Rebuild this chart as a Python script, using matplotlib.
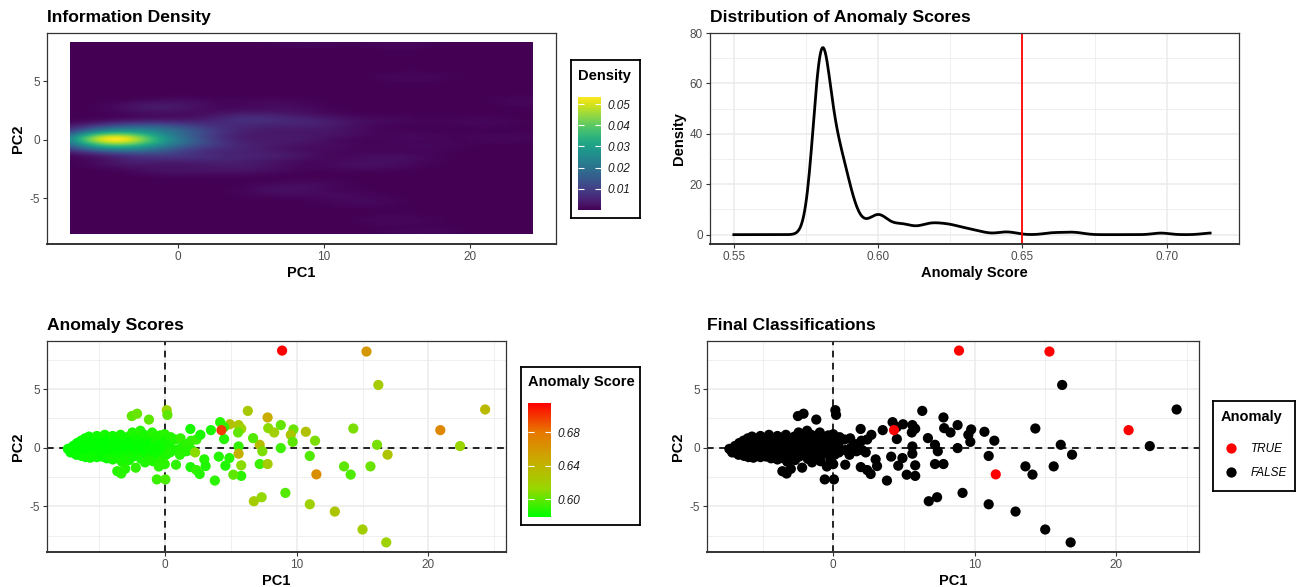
import numpy as np
import matplotlib
matplotlib.use("Agg")
import matplotlib.pyplot as plt
from matplotlib.colors import LinearSegmentedColormap, Normalize
from matplotlib.lines import Line2D

W, H = 1306, 587

# dense group of points left of the origin (PC1, PC2, anomaly score)
cluster_pc1 = [
  -7.35, -7.15, -6.95, -6.85, -6.65, -6.55, -6.70, -6.60,
  -6.35, -6.25, -6.40, -6.30, -6.20, -6.05, -5.95, -6.10, -5.90, -6.00, -6.00,
  -5.75, -5.65, -5.80, -5.60, -5.70, -5.65, -5.75, -5.45, -5.35, -5.50, -5.30, -5.40, -5.45,
  -5.15, -5.05, -5.20, -5.00, -5.10, -5.05, -5.15, -5.10, -4.85, -4.75, -4.90, -4.70, -4.80, -4.75, -4.85,
  -4.55, -4.45, -4.60, -4.40, -4.50, -4.45, -4.55, -4.40, -4.50,
  -4.25, -4.15, -4.30, -4.10, -4.20, -4.15, -4.25, -4.20,
  -3.95, -3.85, -4.00, -3.80, -3.90, -3.85, -3.95, -3.90,
  -3.65, -3.55, -3.70, -3.50, -3.60, -3.55, -3.60, -3.65,
  -3.35, -3.25, -3.40, -3.20, -3.30, -3.25, -3.30, -3.35,
  -4.65, -4.35, -4.95, -4.05,
  -3.05, -2.95, -3.10, -2.90, -3.00, -3.00, -2.75, -2.65, -2.80, -2.60, -2.70,
  -2.45, -2.35, -2.50, -2.30, -2.40, -2.50, -2.15, -2.05, -2.20, -2.00, -2.20, -2.10,
  -1.85, -1.75, -1.90, -1.70, -1.80, -1.55, -1.45, -1.60, -1.40, -1.50,
  -1.25, -1.15, -1.30, -1.10, -1.20, -0.95, -0.85, -1.00, -0.90,
  -0.65, -0.55, -0.60, -0.45, -0.60, -0.35, -0.25, -0.30, -0.20,
  0.00, 0.05, -0.05, 0.10, 0.00, 0.05, 0.15, 0.20, 0.45, 0.35, 0.40, 0.80, 0.85, 0.85,
  1.20, 1.25, 1.15, 1.60, 1.65, 1.94, 2.00, 2.05, 1.95, 2.40, 2.30, 2.40,
]
cluster_pc2 = [
  -0.10, -0.40, 0.15, -0.45, 0.40, -0.10, -0.60, 0.10,
  0.60, 0.05, -0.30, -0.70, 0.30, 0.80, 0.25, -0.10, -0.40, -0.80, 0.05,
  0.95, 0.45, 0.10, -0.20, -0.55, -0.85, 0.25, 0.70, 0.15, -0.05, -0.35, -0.65, 0.40,
  1.00, 0.50, 0.20, 0.00, -0.25, -0.50, -0.80, 0.10, 0.80, 0.35, 0.05, -0.15, -0.40, -0.75, 0.15,
  1.10, 0.55, 0.25, 0.00, -0.15, -0.35, -0.60, -0.90, 0.10,
  0.75, 0.40, 0.10, -0.05, -0.25, -0.50, -0.85, 0.20,
  1.00, 0.50, 0.15, -0.05, -0.40, -0.65, -1.00, 0.05,
  0.85, 0.35, 0.00, -0.25, -0.55, -0.90, -2.00, 0.15,
  1.10, 0.60, 0.15, -0.15, -0.50, -1.20, -2.20, 0.00,
  0.00, 0.05, -0.05, 0.05,
  0.80, 0.25, -0.10, -0.45, -0.80, -1.80, 0.95, 0.45, 0.00, -0.35, -1.05,
  1.30, 0.70, 0.20, -0.30, -0.75, 2.70, 0.90, 0.35, -0.10, -0.55, -1.70, 2.90,
  1.45, 0.80, 0.20, -0.35, -0.95, 1.10, 0.55, -0.10, -0.65, -1.25,
  0.85, 0.30, -0.30, -0.85, 2.40, 1.30, 0.50, -0.20, -1.15,
  0.75, 0.10, -0.50, -1.60, -2.70, 1.05, 0.30, -0.20, -1.05,
  1.15, 0.60, 0.00, -0.60, -1.40, -2.70, 3.20, 2.80, 0.90, 0.20, -0.40, 0.70, -0.20, -1.45,
  0.80, 0.00, -0.60, 0.30, -0.30, 1.60, 0.60, -0.20, -1.65, 0.70, -0.40, -1.90,
]
cluster_score = [
  0.580, 0.580, 0.579, 0.580, 0.580, 0.579, 0.581, 0.580,
  0.580, 0.579, 0.580, 0.581, 0.580, 0.581, 0.580, 0.579, 0.580, 0.582, 0.579,
  0.582, 0.580, 0.579, 0.580, 0.580, 0.583, 0.580, 0.580, 0.579, 0.580, 0.580, 0.581, 0.580,
  0.583, 0.580, 0.579, 0.579, 0.580, 0.580, 0.582, 0.580, 0.581, 0.580, 0.579, 0.580, 0.580, 0.581, 0.579,
  0.584, 0.580, 0.579, 0.580, 0.579, 0.580, 0.580, 0.582, 0.580,
  0.580, 0.580, 0.579, 0.580, 0.580, 0.581, 0.582, 0.580,
  0.583, 0.580, 0.580, 0.580, 0.580, 0.581, 0.584, 0.580,
  0.581, 0.580, 0.580, 0.580, 0.581, 0.583, 0.588, 0.580,
  0.584, 0.581, 0.580, 0.580, 0.581, 0.585, 0.589, 0.580,
  0.580, 0.579, 0.580, 0.580,
  0.582, 0.580, 0.580, 0.581, 0.583, 0.587, 0.583, 0.580, 0.580, 0.581, 0.585,
  0.586, 0.581, 0.580, 0.581, 0.584, 0.600, 0.584, 0.581, 0.580, 0.582, 0.590, 0.602,
  0.587, 0.582, 0.580, 0.581, 0.585, 0.585, 0.581, 0.580, 0.582, 0.586,
  0.584, 0.580, 0.581, 0.585, 0.600, 0.587, 0.581, 0.581, 0.586,
  0.585, 0.581, 0.582, 0.589, 0.592, 0.586, 0.581, 0.581, 0.588,
  0.588, 0.584, 0.582, 0.585, 0.589, 0.595, 0.615, 0.600, 0.587, 0.584, 0.586, 0.586, 0.585, 0.590,
  0.591, 0.586, 0.588, 0.589, 0.587, 0.585, 0.590, 0.588, 0.586, 0.592, 0.610, 0.591,
]

# points spread to the right; the last five are the flagged ones
spread_pc1 = [
  16.2, 24.3, 14.3, 16.1, 16.9, 22.4, 13.6, 14.1, 15.6, 12.9, 11.0, 15.0, 16.8, 9.15,
  6.76, 7.35, 6.3, 7.8, 7.85, 8.3, 8.8, 9.76, 9.56, 9.7, 10.7, 11.4, 11.0, 8.8,
  7.2, 7.4, 6.7, 7.2, 7.8, 5.6, 5.6, 5.8, 5.8, 5.2, 5.6, 5.8, 5.56, 4.94,
  4.2, 3.5, 4.5, 4.5, 4.1, 4.6, 4.9, 3.8, 2.65, 3.0, 3.1, 2.7,
  8.9, 15.3, 11.5, 20.9, 4.3,
]
spread_pc2 = [
  5.35, 3.26, 1.64, 0.25, -0.59, 0.14, -1.59, -2.29, -1.59, -5.44, -4.82, -6.97, -8.07, -3.85,
  -4.56, -4.22, 3.14, 2.58, 1.67, 1.30, 1.93, 1.56, 1.10, 0.50, 1.36, 0.60, -0.70, -0.03,
  0.25, -0.30, 0.82, -1.39, -1.39, 0.11, -0.51, -1.50, -2.40, -2.30, 1.93, 1.62, 1.30, 2.00,
  2.18, 1.50, 0.74, 1.76, -0.76, -1.53, -0.88, -2.80, -2.24, -0.99, -1.56, 1.10,
  8.28, 8.20, -2.27, 1.50, 1.50,
]
spread_score = [
  0.622, 0.636, 0.607, 0.606, 0.628, 0.615, 0.600, 0.596, 0.603, 0.626, 0.618, 0.620, 0.617, 0.598,
  0.621, 0.612, 0.624, 0.646, 0.610, 0.619, 0.601, 0.603, 0.626, 0.600, 0.630, 0.607, 0.597, 0.593,
  0.633, 0.607, 0.598, 0.592, 0.622, 0.590, 0.643, 0.610, 0.589, 0.600, 0.625, 0.617, 0.601, 0.631,
  0.588, 0.585, 0.588, 0.590, 0.587, 0.586, 0.588, 0.589, 0.588, 0.587, 0.586, 0.585,
  0.715, 0.660, 0.665, 0.669, 0.698,
]

threshold = 0.65
density_from = 0.55
score_bw = 0.0028

pc1 = np.array(cluster_pc1 + spread_pc1)
pc2 = np.array(cluster_pc2 + spread_pc2)
score = np.array(cluster_score + spread_score)
anomaly = score > threshold
n = len(score)

plt.rcParams['font.family'] = ['Liberation Sans', 'DejaVu Sans']
plt.rcParams['axes.unicode_minus'] = False

def box(x0, y0, x1, y1):
  return [x0 / W, 1 - y1 / H, (x1 - x0) / W, (y1 - y0) / H]

def gauss(u):
  return np.exp(-0.5 * u ** 2) / np.sqrt(2 * np.pi)

def bw_nrd(v):
  q75, q25 = np.percentile(v, [75, 25])
  return 4 * 1.06 * min(np.std(v, ddof=1), (q75 - q25) / 1.34) * len(v) ** -0.2

def expand(v, frac=0.05):
  lo, hi = np.min(v), np.max(v)
  pad = (hi - lo) * frac
  return lo - pad, hi + pad

def style(ax, grid=True):
  for sp in ax.spines.values():
    sp.set_color('#333333')
    sp.set_linewidth(0.9)
  ax.spines['bottom'].set_linewidth(1.4)
  ax.tick_params(which='major', length=3, width=0.8, color='#333333',
                 labelcolor='#4D4D4D', labelsize=8.5, pad=2)
  ax.tick_params(which='minor', length=0)
  if grid:
    ax.grid(which='major', color='#EBEBEB', lw=1.1)
    ax.grid(which='minor', color='#EBEBEB', lw=0.55)
    ax.set_axisbelow(True)

def titles(ax, title, xlabel, ylabel):
  ax.set_title(title, loc='left', fontsize=12.6, fontweight='bold', pad=8)
  ax.set_xlabel(xlabel, fontsize=10.5, fontweight='bold', labelpad=2)
  ax.set_ylabel(ylabel, fontsize=10.5, fontweight='bold', labelpad=3)

def legend_box(x0, y0, x1, y1):
  lg = fig.add_axes(box(x0, y0, x1, y1))
  lg.set_xticks([])
  lg.set_yticks([])
  for sp in lg.spines.values():
    sp.set_color('black')
    sp.set_linewidth(1.3)
  return lg

def style_cbar(cb, ticks):
  lo, hi = cb.mappable.get_clim()
  ticks = [t for t in ticks if lo <= t <= hi]
  cb.outline.set_visible(False)
  cb.set_ticks(ticks)
  cb.set_ticklabels([f'{t:.2f}' for t in ticks])
  cb.ax.tick_params(direction='in', length=4, width=0.8, color='white',
                    left=True, right=True, labelleft=False, labelright=True,
                    labelsize=8.5, labelcolor='#1A1A1A', pad=5)
  for t in cb.ax.get_yticklabels():
    t.set_style('italic')

fig = plt.figure(figsize=(W / 100, H / 100), dpi=100)

# ---- Information Density (2d kernel density of PC1/PC2)
gx = np.linspace(pc1.min(), pc1.max(), 100)
gy = np.linspace(pc2.min(), pc2.max(), 100)
hx = bw_nrd(pc1) / 4
hy = bw_nrd(pc2) / 4
kx = gauss((gx[:, None] - pc1[None, :]) / hx)
ky = gauss((gy[:, None] - pc2[None, :]) / hy)
dens2d = (ky @ kx.T) / (n * hx * hy)

ax1 = fig.add_axes(box(47, 33, 556, 244))
im = ax1.imshow(dens2d, origin='lower', aspect='auto', cmap='viridis',
                interpolation='bilinear', extent=[gx[0], gx[-1], gy[0], gy[-1]])
ax1.set_xlim(expand(pc1))
ax1.set_ylim(expand(pc2))
ax1.set_xticks([0, 10, 20])
ax1.set_yticks([-5, 0, 5])
style(ax1, grid=False)
titles(ax1, 'Information Density', 'PC1', 'PC2')

legend_box(571, 60, 640, 218)
fig.text(578 / W, 1 - 76 / H, 'Density', fontsize=10.5, fontweight='bold', va='center', ha='left')
cax1 = fig.add_axes(box(578, 97, 601, 210))
cb1 = fig.colorbar(im, cax=cax1)
style_cbar(cb1, [0.01, 0.02, 0.03, 0.04, 0.05])

# ---- Distribution of Anomaly Scores
grid = np.linspace(density_from, score.max(), 512)
dens = gauss((grid[:, None] - score[None, :]) / score_bw).mean(axis=1) / score_bw

ax2 = fig.add_axes(box(710, 33, 1239, 244))
ax2.plot(grid, dens, color='black', lw=2.0)
ax2.axvline(threshold, color='red', lw=1.3)
ax2.set_xlim(expand(grid))
ax2.set_ylim(-0.05 * dens.max(), 1.05 * dens.max())
ax2.set_xticks([0.55, 0.60, 0.65, 0.70])
ax2.set_xticklabels(['0.55', '0.60', '0.65', '0.70'])
ax2.set_xticks([0.575, 0.625, 0.675, 0.725], minor=True)
ax2.set_yticks([0, 20, 40, 60, 80])
ax2.set_yticks([10, 30, 50, 70], minor=True)
style(ax2)
titles(ax2, 'Distribution of Anomaly Scores', 'Anomaly Score', 'Density')

# ---- Anomaly Scores scatter
score_cmap = LinearSegmentedColormap.from_list('green_red', [
  (0.00, (0 / 255, 255 / 255, 0)),
  (0.25, (152 / 255, 215 / 255, 0)),
  (0.50, (201 / 255, 171 / 255, 0)),
  (0.75, (232 / 255, 118 / 255, 0)),
  (1.00, (255 / 255, 0, 0)),
])

def scatter_panel(rect):
  ax = fig.add_axes(rect)
  ax.axhline(0, color='black', lw=1.2, ls=(0, (4, 3.3)), zorder=1)
  ax.axvline(0, color='black', lw=1.2, ls=(0, (4, 3.3)), zorder=1)
  ax.set_xlim(expand(pc1))
  ax.set_ylim(expand(pc2))
  ax.set_xticks([0, 10, 20])
  ax.set_xticks([-5, 5, 15, 25], minor=True)
  ax.set_yticks([-5, 0, 5])
  ax.set_yticks([-7.5, -2.5, 2.5, 7.5], minor=True)
  style(ax)
  return ax

ax3 = scatter_panel(box(47, 341, 506, 552))
sc = ax3.scatter(pc1, pc2, c=score, cmap=score_cmap,
                 norm=Normalize(score.min(), score.max()), s=54, linewidths=0, zorder=3)
titles(ax3, 'Anomaly Scores', 'PC1', 'PC2')

legend_box(521, 367, 640, 525)
fig.text(528 / W, 1 - 382 / H, 'Anomaly Score', fontsize=10.5, fontweight='bold', va='center', ha='left')
cax3 = fig.add_axes(box(528, 403, 551, 517))
cb3 = fig.colorbar(sc, cax=cax3)
style_cbar(cb3, [0.60, 0.64, 0.68])

# ---- Final Classifications
ax4 = scatter_panel(box(707, 341, 1199, 552))
ax4.scatter(pc1, pc2, c=np.where(anomaly, 'red', 'black'), s=54, linewidths=0, zorder=3)
titles(ax4, 'Final Classifications', 'PC1', 'PC2')

legend_box(1213, 401, 1295, 491)
fig.text(1221 / W, 1 - 417 / H, 'Anomaly', fontsize=10.5, fontweight='bold', va='center', ha='left')
handles = [
  Line2D([], [], ls='', marker='o', markersize=7.4, color='red', markeredgewidth=0),
  Line2D([], [], ls='', marker='o', markersize=7.4, color='black', markeredgewidth=0),
]
fig.legend(handles, ['TRUE', 'FALSE'], loc='upper left',
           bbox_to_anchor=(1225 / W, 1 - 443 / H), frameon=False,
           prop={'style': 'italic', 'size': 8.5}, handlelength=1.0,
           handletextpad=1.2, labelspacing=1.0, borderpad=0, borderaxespad=0)

fig.savefig('out.png', dpi=100)
